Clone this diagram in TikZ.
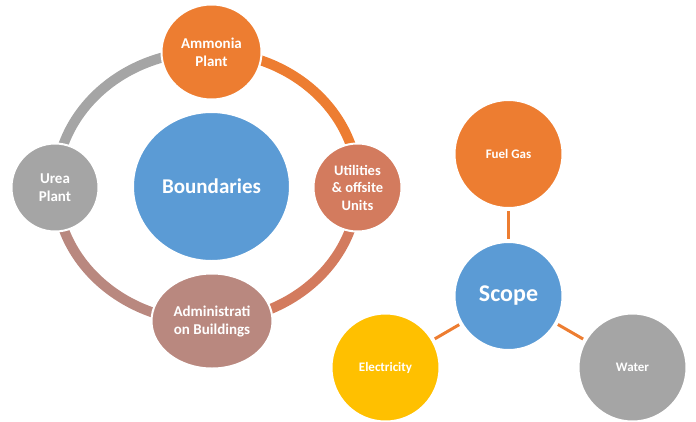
\documentclass[tikz,border=0pt]{standalone}
\usepackage{fontspec}
\setmainfont{Carlito}
\usetikzlibrary{shapes.geometric}
\definecolor{cblue}{HTML}{5B9BD5}
\definecolor{corange}{HTML}{ED7D31}
\definecolor{cgray}{HTML}{A5A5A5}
\definecolor{cyellow}{HTML}{FFC000}
\definecolor{cutil}{HTML}{D37B5E}
\definecolor{cadmin}{HTML}{B9887F}
\tikzset{
  bubble/.style={ellipse, draw=white, line width=2pt, inner sep=0pt, text=white, align=center, font=\bfseries\fontsize{15}{18}\selectfont},
  ringarc/.style={line width=10pt},
  conn/.style={draw=corange, line width=3pt, shorten <=2pt, shorten >=2pt}
}
\begin{document}
\begin{tikzpicture}[x=1pt,y=-1pt]
\useasboundingbox (0,0) rectangle (696,421);
% ring
\coordinate (rc) at (207,186.5);
\draw[ringarc, cgray] (rc) ++(180:151 and 135) arc[start angle=180, end angle=270, x radius=151, y radius=135];
\draw[ringarc, corange] (rc) ++(270:151 and 135) arc[start angle=270, end angle=360, x radius=151, y radius=135];
\draw[ringarc, cutil] (rc) ++(0:151 and 135) arc[start angle=0, end angle=90, x radius=151, y radius=135];
\draw[ringarc, cadmin] (rc) ++(90:151 and 135) arc[start angle=90, end angle=180, x radius=151, y radius=135];
% left cluster nodes
\node[bubble, fill=cblue, minimum width=157pt, minimum height=149pt, font=\bfseries\fontsize{21}{25}\selectfont] (bound) at (211.5,186.5) {Boundaries};
\node[bubble, fill=corange, minimum width=100pt, minimum height=95pt] (ammonia) at (211.5,52) {Ammonia\\Plant};
\node[bubble, fill=cgray, minimum width=87pt, minimum height=88pt] (urea) at (55,187.5) {Urea\\Plant};
\node[bubble, fill=cutil, minimum width=88pt, minimum height=88pt, font=\bfseries\fontsize{14.5}{17.5}\selectfont] (util) at (357.5,187.5) {Utilities\\\& offsite\\Units};
\node[bubble, fill=cadmin, minimum width=121pt, minimum height=95pt] (admin) at (212,321) {Administrati\\on Buildings};
% right cluster
\node[bubble, fill=cblue, minimum width=108pt, minimum height=108pt, font=\bfseries\fontsize{24}{28}\selectfont] (scope) at (508.5,296) {Scope};
\node[bubble, fill=corange, minimum width=108pt, minimum height=108pt, font=\bfseries\fontsize{13}{16}\selectfont] (fuel) at (508.5,154) {Fuel Gas};
\node[bubble, fill=cyellow, minimum width=108pt, minimum height=108pt, font=\bfseries\fontsize{13}{16}\selectfont] (elec) at (385.5,367.5) {Electricity};
\node[bubble, fill=cgray, minimum width=108pt, minimum height=108pt, font=\bfseries\fontsize{13}{16}\selectfont] (water) at (632.5,367.5) {Water};
\draw[conn] (fuel) -- (scope);
\draw[conn] (scope) -- (elec);
\draw[conn] (scope) -- (water);
\end{tikzpicture}
\end{document}
